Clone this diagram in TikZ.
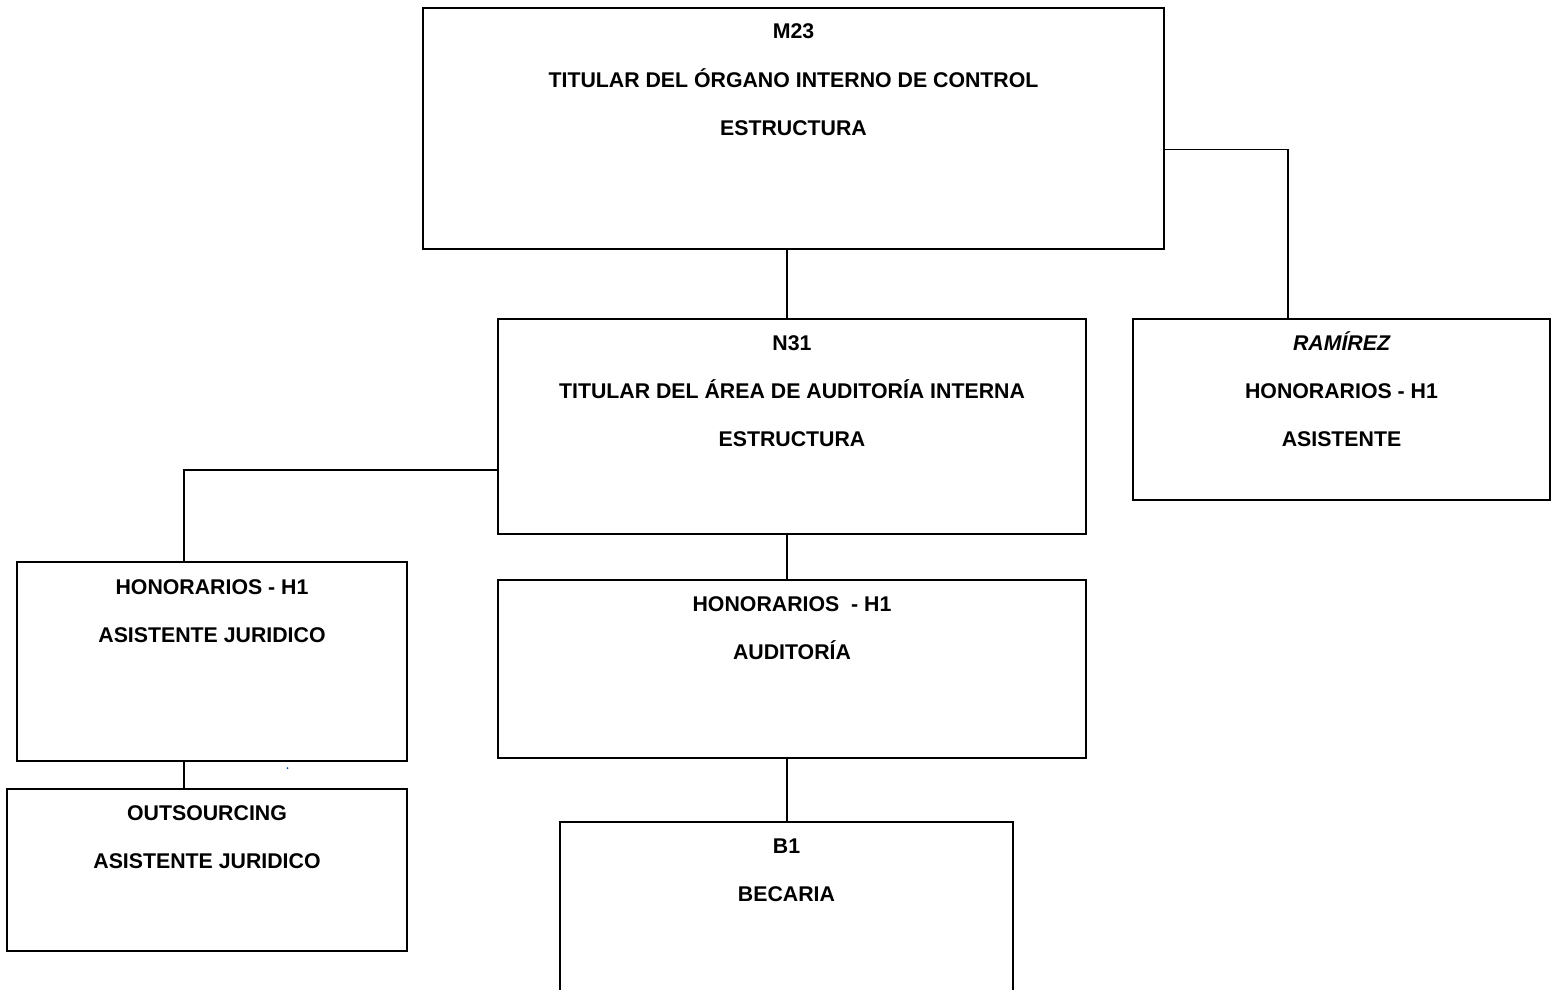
\documentclass[tikz,border=0pt]{standalone}
\usepackage{fontspec}
\setmainfont{Liberation Sans}
\begin{document}
\begin{tikzpicture}[x=1pt,y=-1pt,
  box/.style={draw=black, line width=1.4pt, rectangle, inner sep=0pt, outer sep=0pt},
  link/.style={draw=black, line width=1.7pt},
  lbl/.style={font=\bfseries\fontsize{21.3}{24}\selectfont, inner sep=0pt, anchor=base}]
\useasboundingbox (0,0) rectangle (1555,990);
\clip (0,0) rectangle (1555,990);
\fill[white] (0,0) rectangle (1555,990);
% boxes
\node[box, minimum width=741pt, minimum height=241pt] (m23) at (793.5,128.5) {};
\node[box, minimum width=588pt, minimum height=215pt] (n31) at (792,426.5) {};
\node[box, minimum width=417pt, minimum height=181pt] (ram) at (1341.5,409.5) {};
\node[box, minimum width=390pt, minimum height=199pt] (hj) at (212,661.5) {};
\node[box, minimum width=588pt, minimum height=178pt] (aud) at (792,669) {};
\node[box, minimum width=400pt, minimum height=162pt] (out) at (207,870) {};
\node[box, minimum width=453pt, minimum height=200pt] (b1) at (786.5,922) {};
% texts
\node[lbl] (m23a) at (793.5,39) {M23};
\node[lbl] (m23b) at (793.5,87) {TITULAR DEL ÓRGANO INTERNO DE CONTROL};
\node[lbl] (m23c) at (793.5,135) {ESTRUCTURA};
\node[lbl] (n31a) at (792,350) {N31};
\node[lbl] (n31b) at (792,398) {TITULAR DEL ÁREA DE AUDITORÍA INTERNA};
\node[lbl] (n31c) at (792,446) {ESTRUCTURA};
\node[lbl] (rama) at (1341.5,350) {\itshape RAMÍREZ};
\node[lbl] (ramb) at (1341.5,398) {HONORARIOS - H1};
\node[lbl] (ramc) at (1341.5,446) {ASISTENTE};
\node[lbl] (hja) at (212,594) {HONORARIOS - H1};
\node[lbl] (hjb) at (212,642) {ASISTENTE JURIDICO};
\node[lbl] (auda) at (792,611) {HONORARIOS~ - H1};
\node[lbl] (audb) at (792,659) {AUDITORÍA};
\node[lbl] (outa) at (207,820) {OUTSOURCING};
\node[lbl] (outb) at (207,868) {ASISTENTE JURIDICO};
\node[lbl] (b1a) at (786.5,853) {B1};
\node[lbl] (b1b) at (786.5,901) {BECARIA};
% connector guide coordinates
\coordinate (cx) at (787,0);
\coordinate (r1) at (1288,149.5);
\coordinate (l1) at (184,470);
% connectors
\draw[link] (m23.south -| cx) -- (n31.north -| cx);
\draw[link] (m23.east |- r1) -| (ram.north -| r1);
\draw[link] (n31.west |- l1) -| (hj.north -| l1);
\draw[link] (n31.south -| cx) -- (aud.north -| cx);
\draw[link] (hj.south -| l1) -- (out.north -| l1);
\draw[link] (aud.south -| cx) -- (b1.north -| cx);
% small blue speck
\fill[blue!60!cyan!70!black] (287.5,768) circle (1pt);
\end{tikzpicture}
\end{document}
